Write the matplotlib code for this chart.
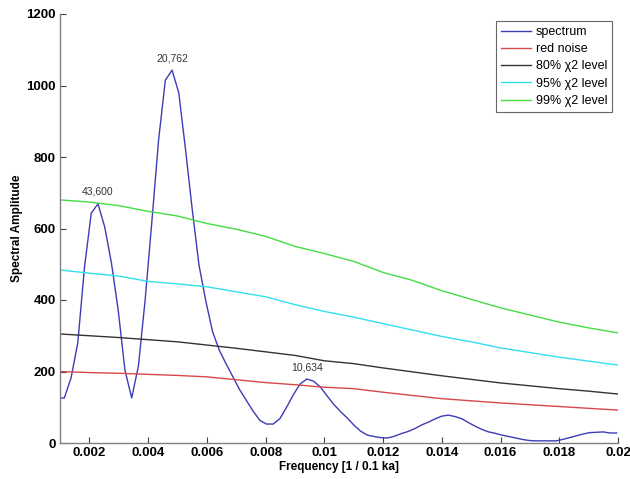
import numpy as np
import matplotlib
matplotlib.use("Agg")
import matplotlib.pyplot as plt

plt.rcParams['font.family'] = ['Liberation Sans', 'DejaVu Sans']

# spectrum on frequency grid k/4360 (1 / 0.1 ka)
k_index = np.arange(4, 88)
freq = k_index / 4360.0
spectrum = [126, 126, 182, 280, 492, 643, 669, 604, 503, 372, 204, 126, 215, 400,
            620, 848, 1015, 1043, 979, 820, 652, 497, 398, 312, 260, 222, 186, 150,
            120, 90, 64, 53, 53, 68, 100, 135, 165, 179, 173, 157, 132, 108, 88, 70,
            50, 33, 22, 18, 15, 14, 19, 26, 32, 40, 50, 58, 67, 75, 78, 74, 68, 57,
            47, 38, 31, 27, 22, 18, 14, 10, 7, 6, 6, 6, 6, 10, 15, 20, 25, 29, 30,
            31, 28, 28]

level_freq = [0.001, 0.002, 0.003, 0.004, 0.005, 0.006, 0.007, 0.008, 0.009, 0.010,
              0.011, 0.012, 0.013, 0.014, 0.015, 0.016, 0.017, 0.018, 0.019, 0.020]
red_noise = [200, 197, 195, 192, 189, 185, 177, 169, 163, 156, 152, 142, 133, 124, 118,
             112, 107, 102, 97, 92]
level80 = [305, 300, 295, 289, 283, 274, 265, 255, 245, 230, 222, 210, 199, 188, 178,
           168, 160, 152, 145, 137]
level95 = [484, 475, 467, 452, 445, 437, 423, 409, 387, 368, 352, 334, 316, 298, 283,
           266, 253, 240, 229, 218]
level99 = [680, 674, 664, 648, 635, 614, 598, 578, 550, 530, 508, 477, 455, 426, 402,
           378, 358, 338, 322, 308]

peak_k = [10, 21, 41]
peak_labels = ['43,600', '20,762', '10,634']

series_labels = ['spectrum', 'red noise', '80% χ2 level', '95% χ2 level', '99% χ2 level']
colors = ['#3c3cb4', '#d84848', '#333333', '#33e0f0', '#44dd44']

fig = plt.figure(figsize=(6.3, 4.79), dpi=100)
ax = fig.add_axes([60/630, 1-443/479, 558/630, 429/479])

ax.plot(freq, spectrum, color=colors[0], lw=1.0, label=series_labels[0])
ax.plot(level_freq, red_noise, color=colors[1], lw=1.0, label=series_labels[1])
ax.plot(level_freq, level80, color=colors[2], lw=1.0, label=series_labels[2])
ax.plot(level_freq, level95, color=colors[3], lw=1.0, label=series_labels[3])
ax.plot(level_freq, level99, color=colors[4], lw=1.0, label=series_labels[4])

for kk, lab in zip(peak_k, peak_labels):
    i = list(k_index).index(kk)
    ax.annotate(lab, (freq[i], spectrum[i]), xytext=(0, 5), textcoords='offset points',
                ha='center', va='bottom', fontsize=7.5, color='#333333')

ax.set_xlim(0.001, 0.02)
ax.set_ylim(0, 1200)
ax.set_xticks([0.002, 0.004, 0.006, 0.008, 0.01, 0.012, 0.014, 0.016, 0.018, 0.02])
ax.set_xticklabels(['0.002', '0.004', '0.006', '0.008', '0.01', '0.012', '0.014',
                    '0.016', '0.018', '0.02'])
ax.set_yticks([0, 200, 400, 600, 800, 1000, 1200])
for s in ['top', 'right']:
    ax.spines[s].set_visible(False)
for s in ['left', 'bottom']:
    ax.spines[s].set_color('#808080')
    ax.spines[s].set_linewidth(1.0)
ax.tick_params(direction='in', length=4, color='#404040', labelsize=9.5)
ax.tick_params(axis='y', pad=3)
ax.tick_params(axis='x', pad=3)
for lab in ax.get_xticklabels() + ax.get_yticklabels():
    lab.set_fontweight('bold')

ax.set_xlabel('Frequency [1 / 0.1 ka]', fontsize=8.5, fontweight='bold')
ax.set_ylabel('Spectral Amplitude', fontsize=8.5, fontweight='bold')
ax.yaxis.set_label_coords(-(60-23)/558, 0.5)
ax.xaxis.set_label_coords(0.5, -(461-443)/429)

leg = ax.legend(loc='upper right', bbox_to_anchor=(612/630, 1-21/479),
                bbox_transform=fig.transFigure, fontsize=9, frameon=True,
                fancybox=False, handlelength=2.4, handletextpad=0.4,
                borderpad=0.4, labelspacing=0.42, borderaxespad=0)
leg.get_frame().set_edgecolor('#404040')
leg.get_frame().set_linewidth(0.8)

fig.savefig('out.png', dpi=100)
